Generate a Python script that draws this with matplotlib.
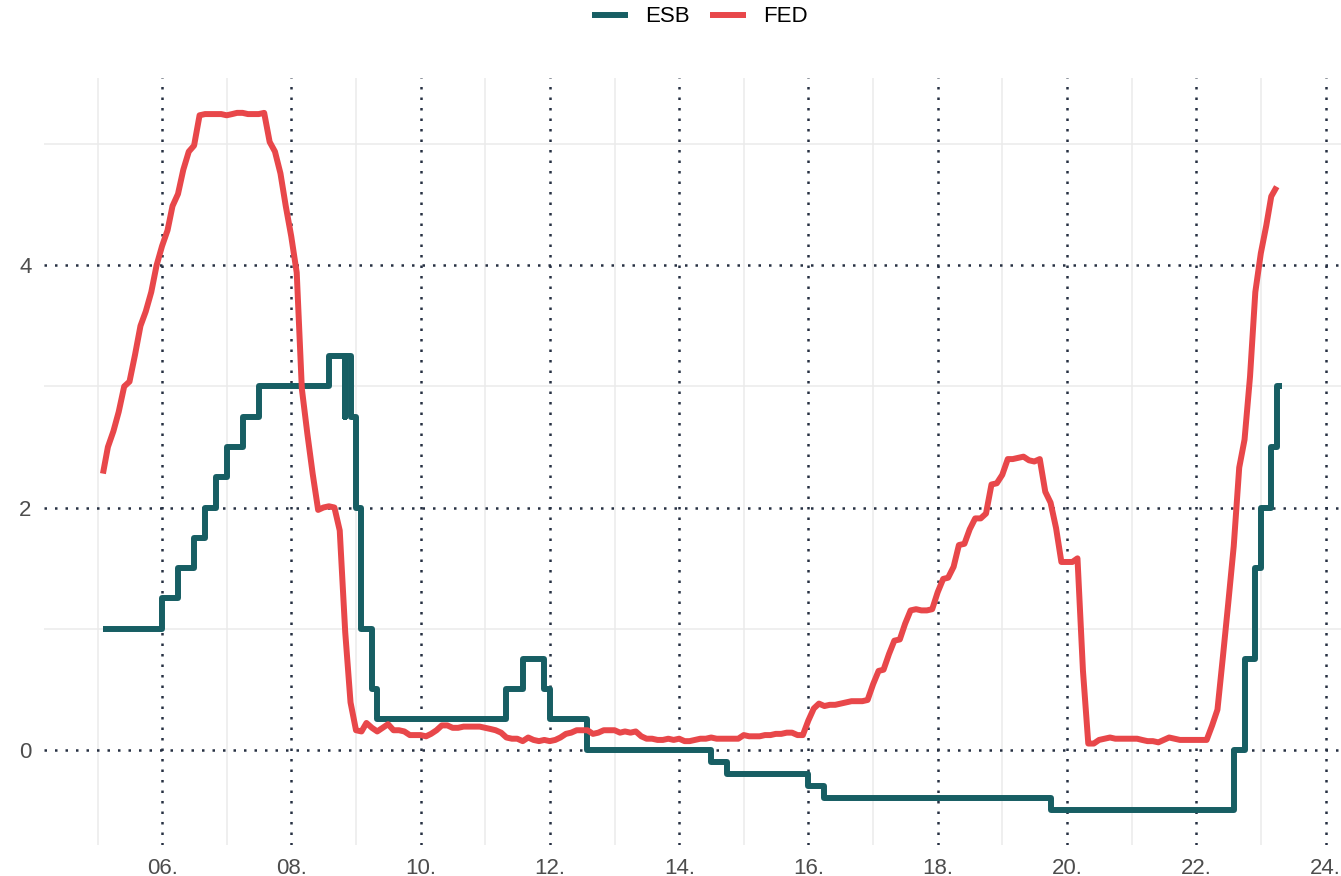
import matplotlib
matplotlib.use("Agg")
import matplotlib.pyplot as plt
import matplotlib.dates as mdates
import pandas as pd

plt.rcParams['font.family'] = ['Liberation Sans', 'DejaVu Sans']

# ECB deposit rate, changes dated at month end (Oct 2008 has two entries)
esb_dates = ['2005-01-31', '2005-12-31', '2006-03-31', '2006-06-30', '2006-08-31',
             '2006-10-31', '2006-12-31', '2007-03-31', '2007-06-30', '2008-07-31',
             '2008-10-31', '2008-10-31', '2008-11-30', '2008-12-31', '2009-01-31',
             '2009-03-31', '2009-04-30', '2011-04-30', '2011-07-31', '2011-11-30',
             '2011-12-31', '2012-07-31', '2014-06-30', '2014-09-30', '2015-12-31',
             '2016-03-31', '2019-09-30', '2022-07-31', '2022-09-30', '2022-11-30',
             '2022-12-31', '2023-02-28', '2023-03-31', '2023-04-30']
esb_rate = [1.00, 1.25, 1.50, 1.75, 2.00, 2.25, 2.50, 2.75, 3.00, 3.25,
            2.75, 3.25, 2.75, 2.00, 1.00, 0.50, 0.25, 0.50, 0.75, 0.50,
            0.25, 0.00, -0.10, -0.20, -0.30, -0.40, -0.50, 0.00, 0.75, 1.50,
            2.00, 2.50, 3.00, 3.00]

# Fed funds rate, monthly Jan 2005 - Mar 2023
fed_rate = [
    2.28, 2.50, 2.63, 2.79, 3.00, 3.04, 3.26, 3.50, 3.62, 3.78, 4.00, 4.16,   # 2005
    4.29, 4.49, 4.59, 4.79, 4.94, 4.99, 5.24, 5.25, 5.25, 5.25, 5.25, 5.24,   # 2006
    5.25, 5.26, 5.26, 5.25, 5.25, 5.25, 5.26, 5.02, 4.94, 4.76, 4.49, 4.24,   # 2007
    3.94, 2.98, 2.61, 2.28, 1.98, 2.00, 2.01, 2.00, 1.81, 0.97, 0.39, 0.16,   # 2008
    0.15, 0.22, 0.18, 0.15, 0.18, 0.21, 0.16, 0.16, 0.15, 0.12, 0.12, 0.12,   # 2009
    0.11, 0.13, 0.16, 0.20, 0.20, 0.18, 0.18, 0.19, 0.19, 0.19, 0.19, 0.18,   # 2010
    0.17, 0.16, 0.14, 0.10, 0.09, 0.09, 0.07, 0.10, 0.08, 0.07, 0.08, 0.07,   # 2011
    0.08, 0.10, 0.13, 0.14, 0.16, 0.16, 0.16, 0.13, 0.14, 0.16, 0.16, 0.16,   # 2012
    0.14, 0.15, 0.14, 0.15, 0.11, 0.09, 0.09, 0.08, 0.08, 0.09, 0.08, 0.09,   # 2013
    0.07, 0.07, 0.08, 0.09, 0.09, 0.10, 0.09, 0.09, 0.09, 0.09, 0.09, 0.12,   # 2014
    0.11, 0.11, 0.11, 0.12, 0.12, 0.13, 0.13, 0.14, 0.14, 0.12, 0.12, 0.24,   # 2015
    0.34, 0.38, 0.36, 0.37, 0.37, 0.38, 0.39, 0.40, 0.40, 0.40, 0.41, 0.54,   # 2016
    0.65, 0.66, 0.79, 0.90, 0.91, 1.04, 1.15, 1.16, 1.15, 1.15, 1.16, 1.30,   # 2017
    1.41, 1.42, 1.51, 1.69, 1.70, 1.82, 1.91, 1.91, 1.95, 2.19, 2.20, 2.27,   # 2018
    2.40, 2.40, 2.41, 2.42, 2.39, 2.38, 2.40, 2.13, 2.04, 1.83, 1.55, 1.55,   # 2019
    1.55, 1.58, 0.65, 0.05, 0.05, 0.08, 0.09, 0.10, 0.09, 0.09, 0.09, 0.09,   # 2020
    0.09, 0.08, 0.07, 0.07, 0.06, 0.08, 0.10, 0.09, 0.08, 0.08, 0.08, 0.08,   # 2021
    0.08, 0.08, 0.20, 0.33, 0.77, 1.21, 1.68, 2.33, 2.56, 3.08, 3.78, 4.10,   # 2022
    4.33, 4.57, 4.65]                                                         # 2023
fed_dates = pd.date_range('2005-01-31', periods=len(fed_rate), freq='ME')

major_years = list(range(2006, 2025, 2))
minor_years = list(range(2005, 2024, 2))
y_major = [0, 2, 4]
y_minor = [1, 3, 5]

esb_col = '#175E63'
fed_col = '#E8474A'

W, H = 1341, 876
fig = plt.figure(figsize=(W / 100, H / 100), dpi=100)
ax = fig.add_axes([44 / W, 31 / H, 1297 / W, 767 / H])

esb_x = pd.to_datetime(esb_dates)
ax.step(esb_x, esb_rate, where='post', color=esb_col, lw=4.3,
        solid_capstyle='butt', solid_joinstyle='round', label='ESB', zorder=3)
ax.plot(fed_dates, fed_rate, color=fed_col, lw=4.3,
        solid_capstyle='butt', solid_joinstyle='round', label='FED', zorder=3)

# limits with 5% padding like ggplot
xmin = mdates.date2num(min(esb_x.min(), fed_dates.min()))
xmax = mdates.date2num(max(esb_x.max(), fed_dates.max()))
pad = 0.05 * (xmax - xmin)
ax.set_xlim(xmin - pad, xmax + pad)
ymin = min(min(esb_rate), min(fed_rate))
ymax = max(max(esb_rate), max(fed_rate))
ypad = 0.05 * (ymax - ymin)
ax.set_ylim(ymin - ypad, ymax + ypad)

ax.set_xticks([mdates.date2num(pd.Timestamp(f'{y}-01-01')) for y in major_years])
ax.set_xticklabels([f'{y % 100:02d}.' for y in major_years])
ax.set_xticks([mdates.date2num(pd.Timestamp(f'{y}-01-01')) for y in minor_years], minor=True)
ax.set_yticks(y_major)
ax.set_yticklabels([str(v) for v in y_major])
ax.set_yticks(y_minor, minor=True)

ax.grid(which='minor', color='#EBEBEB', lw=1.1, ls='-', zorder=0)
ax.grid(which='major', color='#263042', lw=1.8, ls=(0, (1, 3.2)), zorder=1)
ax.set_axisbelow(True)

for s in ax.spines.values():
    s.set_visible(False)
ax.tick_params(which='both', length=0)
ax.tick_params(axis='x', pad=9, labelsize=16, labelcolor='#4D4D4D')
ax.tick_params(axis='y', pad=9, labelsize=16, labelcolor='#4D4D4D')

fig.legend(loc='center', bbox_to_anchor=(700 / W, 1 - 17 / H), ncol=2, frameon=False,
           fontsize=16, handlelength=1.6, handletextpad=0.8, columnspacing=0.9)

fig.savefig('out.png', dpi=100)
